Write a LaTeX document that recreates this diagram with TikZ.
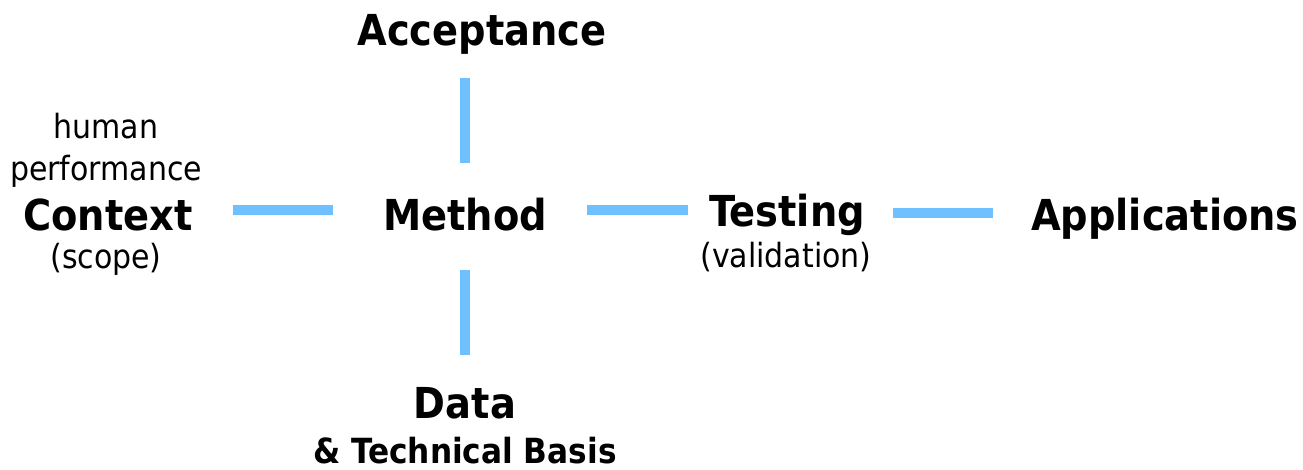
\documentclass[tikz,border=0pt]{standalone}
\usepackage{fontspec}
\setmainfont{DejaVu Sans Condensed}
\definecolor{linkblue}{RGB}{110,192,255}
\tikzset{
  big/.style={inner sep=0pt, anchor=base, font=\bfseries\fontsize{32}{36}\selectfont},
  small/.style={inner sep=0pt, anchor=base, font=\fontsize{25}{30}\selectfont},
  mid/.style={inner sep=0pt, anchor=base, font=\bfseries\fontsize{26}{30}\selectfont},
  link/.style={draw=linkblue, line width=7.5pt}
}
\begin{document}
\begin{tikzpicture}[x=0.75pt,y=-0.75pt]
\useasboundingbox (0,0) rectangle (1303,469);
% texts
\node[big] (acc) at (482,45) {Acceptance};
\node[big] (method) at (465,230) {Method};
\node[small] (human) at (106,138) {human};
\node[small] (perf) at (106,180) {performance};
\node[big] (ctx) at (108,230) {Context};
\node[small] (scope) at (106,268) {(scope)};
\node[big] (test) at (787,226) {Testing};
\node[small] (valid) at (786,267) {(validation)};
\node[big] (app) at (1165,230) {Applications};
\node[big] (data) at (465,418) {Data};
\node[mid] (tech) at (465,463) {\&\ Technical Basis};
% connector end points
\coordinate (c1a) at (233,210); \coordinate (c1b) at (333,210);
\coordinate (c2a) at (587,210); \coordinate (c2b) at (688,210);
\coordinate (c3a) at (893,213); \coordinate (c3b) at (993,213);
\coordinate (c4a) at (465,78);  \coordinate (c4b) at (465,163);
\coordinate (c5a) at (465,270); \coordinate (c5b) at (465,355);
\draw[link] (c1a) -- (c1b);
\draw[link] (c2a) -- (c2b);
\draw[link] (c3a) -- (c3b);
\draw[link] (c4a) -- (c4b);
\draw[link] (c5a) -- (c5b);
\end{tikzpicture}
\end{document}
